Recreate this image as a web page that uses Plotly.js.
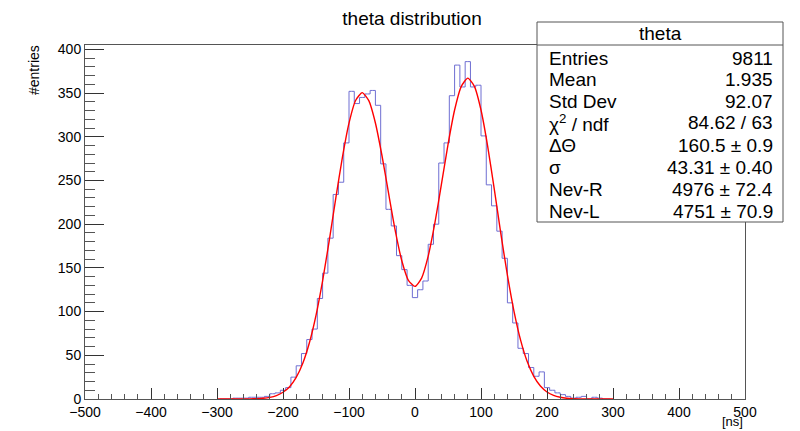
<!DOCTYPE html>
<html><head><meta charset="utf-8">
<script src="https://cdn.plot.ly/plotly-3.0.1.min.js"></script>
<style>html,body{margin:0;padding:0;background:#fff}#chart{width:800px;height:431px}</style>
</head><body><div id="chart"></div>
<script>
// Histogram bin centers (8 ns bins) and counts
const binCenters = [-296,-288,-280,-272,-264,-256,-248,-240,-232,-224,-216,-208,-200,-192,-184,-176,-168,-160,-152,-144,-136,-128,-120,-112,-104,-96,-88,-80,-72,-64,-56,-48,-40,-32,-24,-16,-8,0,8,16,24,32,40,48,56,64,72,80,88,96,104,112,120,128,136,144,152,160,168,176,184,192,200,208,216,224,232,240,248,256,264,272,280,288,296];
const binCounts = [0,0,0,1,1,1,2,2,2,3,6,7,10,13,25,38,52,68,80,115,144,184,234,248,293,352,338,345,349,353,336,269,217,198,164,148,130,116,125,135,177,200,270,293,347,382,357,386,357,359,301,245,221,192,161,110,87,58,52,36,26,31,13,10,7,5,3,1,2,3,0,2,1,0,0];

// Red fit curve, every 10 ns
const fitX = [-300,-290,-280,-270,-260,-250,-240,-230,-220,-210,-200,-190,-180,-170,-160,-150,-140,-130,-120,-110,-100,-90,-80,-70,-60,-50,-40,-30,-20,-10,0,10,20,30,40,50,60,70,80,90,100,110,120,130,140,150,160,170,180,190,200,210,220,230,240,250,260,270,280,290,300];
const fitY = [0,0,0.01,0.02,0.06,0.16,0.39,0.89,1.9,3.9,7.7,14.1,24.7,40.9,64.3,95.7,135.2,181.0,229.8,276.5,315.6,341.5,350.5,341.3,315.8,278.3,235.2,193.0,158.2,135.8,128.8,138.3,163.4,200.8,245.5,291.1,330.6,357.4,367.1,357.7,330.6,289.7,240.7,189.6,141.6,100.3,67.3,42.8,25.9,14.8,8.0,4.1,2.0,0.93,0.41,0.17,0.07,0.02,0.01,0,0];

const xTickVals = [-500,-400,-300,-200,-100,0,100,200,300,400,500];
const yTickVals = [0,50,100,150,200,250,300,350,400];

const statTitle = 'theta';
const statLabels = ['Entries','Mean','Std Dev','\u03c7<sup>2</sup> / ndf','\u0394\u0398','\u03c3','Nev-R','Nev-L'];
const statValues = ['9811','1.935','92.07','84.62 / 63','160.5 \u00b1 0.9','43.31 \u00b1 0.40','4976 \u00b1 72.4','4751 \u00b1 70.9'];

const W = 800, H = 431;
const L = 85, R = 745, T = 45, B = 399;
const px = v => (v - L) / (R - L);
const py = v => (B - v) / (B - T);
const FONT = 'Liberation Sans, Arial, Helvetica, sans-serif';

const traces = [
  {x: binCenters, y: binCounts, type: 'scatter', mode: 'lines',
   line: {shape: 'hvh', color: 'rgb(110,110,210)', width: 1}, hoverinfo: 'skip'},
  {x: fitX, y: fitY, type: 'scatter', mode: 'lines',
   line: {shape: 'spline', smoothing: 0.6, color: '#ff0000', width: 1.4}, hoverinfo: 'skip'}
];

const rowY = [58, 79.5, 101, 123, 145, 167, 189, 211];
const annotations = [];
annotations.push({text: statTitle, xref: 'paper', yref: 'paper', x: px(660), y: py(33),
  xanchor: 'center', yanchor: 'middle', showarrow: false, font: {family: FONT, size: 19, color: '#000'}});
statLabels.forEach((t, i) => annotations.push({text: t, xref: 'paper', yref: 'paper', x: px(547), y: py(rowY[i]),
  xanchor: 'left', yanchor: 'middle', showarrow: false, font: {family: FONT, size: 19, color: '#000'}}));
statValues.forEach((t, i) => annotations.push({text: t, xref: 'paper', yref: 'paper', x: px(775), y: py(rowY[i]),
  xanchor: 'right', yanchor: 'middle', showarrow: false, font: {family: FONT, size: 19, color: '#000'}}));
annotations.push({text: '[ns]', xref: 'paper', yref: 'paper', x: px(744), y: py(421.5),
  xanchor: 'right', yanchor: 'middle', showarrow: false, borderpad: 0, font: {family: FONT, size: 13, color: '#000'}});
annotations.push({text: '#entries', xref: 'paper', yref: 'paper', x: px(34), y: py(43),
  xanchor: 'center', yanchor: 'top', textangle: -90, showarrow: false, font: {family: FONT, size: 14, color: '#000'}});

const shapes = [
  {type: 'rect', xref: 'paper', yref: 'paper', x0: px(537), x1: px(783), y0: py(222), y1: py(22),
   fillcolor: '#fff', line: {color: '#555', width: 1}, layer: 'above'},
  {type: 'line', xref: 'paper', yref: 'paper', x0: px(537), x1: px(783), y0: py(45), y1: py(45),
   line: {color: '#555', width: 1}, layer: 'above'}
];

const layout = {
  width: W, height: H,
  margin: {l: L, r: W - R, t: T, b: H - B, pad: 0},
  paper_bgcolor: '#fff', plot_bgcolor: '#fff',
  showlegend: false,
  font: {family: FONT, color: '#000'},
  title: {text: 'theta distribution', x: 412 / W, xref: 'container', xanchor: 'center',
          y: 1 - 18 / H, yref: 'container', yanchor: 'middle', font: {family: FONT, size: 19, color: '#000'}},
  xaxis: {range: [-500, 500], tickvals: xTickVals, ticks: 'inside', ticklen: 11, tickcolor: '#333',
          showline: true, mirror: true, linecolor: '#555', linewidth: 1, showgrid: false, zeroline: false,
          minor: {dtick: 20, ticks: 'inside', ticklen: 5, tickcolor: '#555'},
          tickfont: {family: FONT, size: 14, color: '#000'}},
  yaxis: {range: [0, 405], tickvals: yTickVals, ticks: 'inside', ticklen: 19, tickcolor: '#333',
          showline: true, mirror: true, linecolor: '#555', linewidth: 1, showgrid: false, zeroline: false,
          minor: {dtick: 10, ticks: 'inside', ticklen: 10, tickcolor: '#555'},
          tickfont: {family: FONT, size: 14, color: '#000'}},
  annotations: annotations,
  shapes: shapes
};

Plotly.newPlot('chart', traces, layout, {staticPlot: true, displayModeBar: false});
</script>
</body></html>
